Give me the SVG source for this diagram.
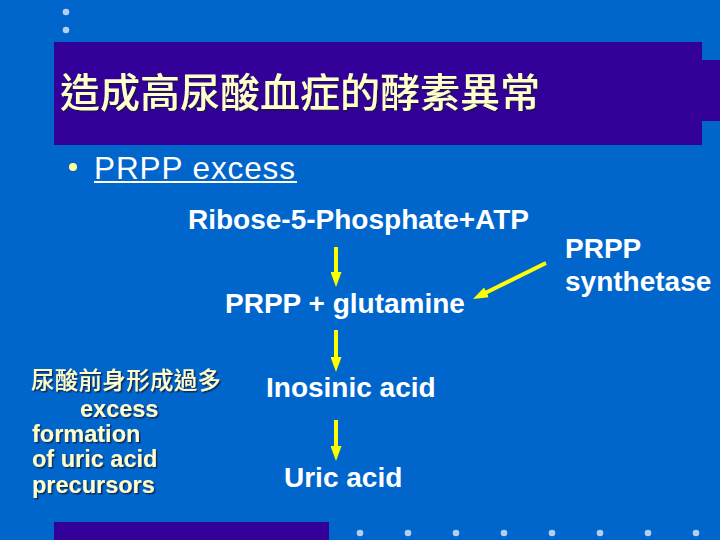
<svg xmlns="http://www.w3.org/2000/svg" width="720" height="540" viewBox="0 0 720 540">
<defs>
<style>
.bg{fill:#0066CC}
.bar{fill:#330099}
.dot{fill:#B4CDF2}
.lbl{font-family:"Liberation Sans",Arial,sans-serif;font-weight:bold;font-size:28px;fill:#FFFFFF}
.side{font-family:"Liberation Sans","Noto Sans CJK TC",sans-serif;font-weight:bold;font-size:23.5px;fill:#FFFFCC}
.cjk{font-family:"Noto Sans CJK TC","Noto Sans CJK SC",sans-serif;font-weight:500;font-size:23.5px;fill:#FFFFCC}
.title{font-family:"Noto Sans CJK TC","Noto Sans CJK SC",sans-serif;font-weight:500;font-size:40px;fill:#FFFFCC}
.arr{stroke:#FFFF00;stroke-width:4;fill:none}
</style>
<marker id="ah" markerUnits="userSpaceOnUse" markerWidth="15" markerHeight="11" refX="2" refY="5.5" orient="auto">
<path d="M0,0 L15,5.5 L0,11 z" fill="#FFFF00"/>
</marker>
<filter id="sh" x="-10%" y="-20%" width="120%" height="150%">
<feDropShadow dx="1.5" dy="1.5" stdDeviation="0.6" flood-color="#1a1a40" flood-opacity="0.8"/>
</filter>
</defs>
<rect class="bg" x="0" y="0" width="720" height="540"/>
<g id="decor">
<circle class="dot" cx="66" cy="12" r="3.3"/>
<circle class="dot" cx="66" cy="30" r="3.3"/>
<rect class="bar" x="54" y="42" width="648" height="103"/>
<rect class="bar" x="702" y="60" width="18" height="61"/>
<rect class="bar" x="54" y="522" width="275" height="18"/>
<circle class="dot" cx="360" cy="533" r="3.3"/>
<circle class="dot" cx="408" cy="533" r="3.3"/>
<circle class="dot" cx="456" cy="533" r="3.3"/>
<circle class="dot" cx="504" cy="533" r="3.3"/>
<circle class="dot" cx="552" cy="533" r="3.3"/>
<circle class="dot" cx="600" cy="533" r="3.3"/>
<circle class="dot" cx="648" cy="533" r="3.3"/>
<circle class="dot" cx="696" cy="533" r="3.3"/>
</g>
<g id="title">
<text class="title" x="60" y="107" filter="url(#sh)">造成高尿酸血症的酵素異常</text>
</g>
<g id="bullet">
<circle cx="73" cy="167" r="4" fill="#FFFF99"/>
<text x="94" y="179" font-family="'Liberation Sans',Arial,sans-serif" font-size="31.5" fill="#FFFFFF" textLength="201" lengthAdjust="spacing">PRPP excess</text>
<rect x="94" y="181" width="203" height="2" fill="#FFFFFF"/>
</g>
<g id="ribose"><text class="lbl" x="188" y="229">Ribose-5-Phosphate+ATP</text></g>
<g id="prpp"><text class="lbl" x="225" y="313">PRPP + glutamine</text></g>
<g id="inosinic"><text class="lbl" x="266" y="397">Inosinic acid</text></g>
<g id="uric"><text class="lbl" x="284" y="487">Uric acid</text></g>
<g id="synthetase">
<text class="lbl" x="565" y="258">PRPP</text>
<text class="lbl" x="565" y="291">synthetase</text>
</g>
<g id="note" filter="url(#sh)">
<text class="cjk" x="31" y="389" textLength="190">尿酸前身形成過多</text>
<text class="side" x="80" y="417">excess</text>
<text class="side" x="32" y="442">formation</text>
<text class="side" x="32" y="467">of uric acid</text>
<text class="side" x="32" y="493">precursors</text>
</g>
<g id="connectors">
<line class="arr" x1="336" y1="247" x2="336" y2="274" marker-end="url(#ah)"/>
<line class="arr" x1="336" y1="330" x2="336" y2="359" marker-end="url(#ah)"/>
<line class="arr" x1="336" y1="420" x2="336" y2="448" marker-end="url(#ah)"/>
<line class="arr" x1="546" y1="263" x2="484.7" y2="293.3" marker-end="url(#ah)"/>
</g>
</svg>
